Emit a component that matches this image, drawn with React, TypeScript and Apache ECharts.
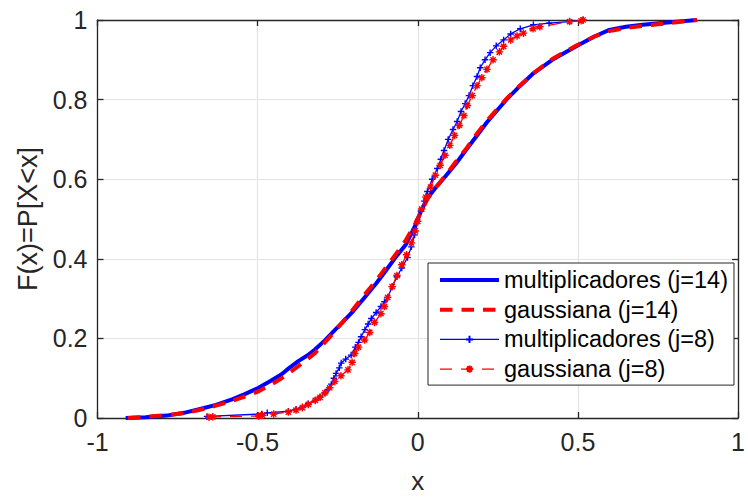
import React, { useEffect, useRef } from "react";
import * as echarts from "echarts";

const xTicks = [-1, -0.5, 0, 0.5, 1];
const yTicks = [0, 0.2, 0.4, 0.6, 0.8, 1];

const seriesNames = [
  "multiplicadores (j=14)",
  "gaussiana (j=14)",
  "multiplicadores (j=8)",
  "gaussiana (j=8)",
];

// multiplicadores j=14 (thick blue)
const mult14X = [-0.912, -0.85, -0.785, -0.73, -0.683, -0.63, -0.58, -0.54, -0.497, -0.46, -0.425, -0.404, -0.373, -0.345, -0.321, -0.29, -0.26, -0.239, -0.2, -0.166, -0.13, -0.1, -0.07, -0.037, -0.01, 0.01, 0.03, 0.055, 0.082, 0.12, 0.154, 0.185, 0.216, 0.25, 0.278, 0.32, 0.361, 0.42, 0.495, 0.55, 0.598, 0.65, 0.702, 0.78, 0.872];
const mult14Y = [0, 0.002, 0.006, 0.013, 0.022, 0.033, 0.047, 0.06, 0.076, 0.093, 0.11, 0.124, 0.143, 0.157, 0.172, 0.195, 0.22, 0.237, 0.27, 0.303, 0.338, 0.37, 0.403, 0.436, 0.48, 0.52, 0.552, 0.578, 0.603, 0.64, 0.677, 0.71, 0.743, 0.775, 0.801, 0.835, 0.866, 0.9, 0.934, 0.958, 0.975, 0.983, 0.988, 0.994, 1];

// gaussiana j=14 (thick red dashed)
const gaus14X = [-0.905, -0.85, -0.785, -0.73, -0.683, -0.63, -0.58, -0.54, -0.497, -0.46, -0.425, -0.39, -0.36, -0.321, -0.29, -0.26, -0.23, -0.2, -0.166, -0.13, -0.1, -0.07, -0.037, -0.01, 0.01, 0.03, 0.055, 0.082, 0.12, 0.154, 0.185, 0.216, 0.25, 0.278, 0.32, 0.361, 0.42, 0.495, 0.55, 0.598, 0.65, 0.702, 0.78, 0.872];
const gaus14Y = [0, 0.003, 0.007, 0.012, 0.02, 0.031, 0.043, 0.054, 0.067, 0.083, 0.1, 0.12, 0.138, 0.163, 0.19, 0.217, 0.245, 0.275, 0.31, 0.345, 0.378, 0.41, 0.447, 0.485, 0.518, 0.55, 0.578, 0.605, 0.645, 0.68, 0.715, 0.747, 0.778, 0.803, 0.836, 0.866, 0.902, 0.936, 0.958, 0.972, 0.98, 0.985, 0.992, 1];

// multiplicadores j=8 (thin blue, +)
const mult8X = [-0.658, -0.487, -0.47, -0.404, -0.38, -0.36, -0.342, -0.32, -0.305, -0.29, -0.28, -0.27, -0.262, -0.255, -0.245, -0.239, -0.225, -0.208, -0.195, -0.185, -0.177, -0.165, -0.155, -0.145, -0.13, -0.115, -0.104, -0.094, -0.08, -0.065, -0.05, -0.032, -0.02, -0.01, 0, 0.01, 0.02, 0.03, 0.045, 0.061, 0.072, 0.082, 0.095, 0.11, 0.123, 0.135, 0.148, 0.16, 0.172, 0.185, 0.195, 0.21, 0.226, 0.245, 0.268, 0.29, 0.32, 0.361, 0.41, 0.474, 0.516];
const mult8Y = [0.004, 0.01, 0.013, 0.017, 0.022, 0.028, 0.036, 0.045, 0.053, 0.063, 0.072, 0.085, 0.1, 0.112, 0.126, 0.138, 0.148, 0.158, 0.178, 0.19, 0.204, 0.222, 0.236, 0.25, 0.265, 0.28, 0.292, 0.303, 0.33, 0.355, 0.377, 0.403, 0.43, 0.46, 0.494, 0.52, 0.545, 0.569, 0.6, 0.627, 0.65, 0.672, 0.7, 0.725, 0.745, 0.77, 0.79, 0.81, 0.835, 0.858, 0.88, 0.9, 0.918, 0.935, 0.95, 0.965, 0.978, 0.988, 0.992, 0.996, 1];

// gaussiana j=8 (thin red dashed, *)
const gaus8X = [-0.652, -0.64, -0.497, -0.485, -0.45, -0.404, -0.38, -0.36, -0.342, -0.32, -0.305, -0.29, -0.275, -0.259, -0.24, -0.218, -0.205, -0.197, -0.185, -0.166, -0.15, -0.135, -0.115, -0.104, -0.094, -0.08, -0.065, -0.05, -0.035, -0.02, -0.008, 0, 0.012, 0.025, 0.04, 0.055, 0.07, 0.085, 0.1, 0.115, 0.13, 0.144, 0.155, 0.17, 0.185, 0.2, 0.216, 0.235, 0.255, 0.268, 0.29, 0.31, 0.33, 0.36, 0.381, 0.474, 0.51, 0.516];
const gaus8Y = [0.002, 0.003, 0.005, 0.007, 0.01, 0.015, 0.02, 0.026, 0.034, 0.044, 0.052, 0.063, 0.076, 0.092, 0.106, 0.121, 0.14, 0.162, 0.178, 0.196, 0.215, 0.24, 0.262, 0.28, 0.303, 0.33, 0.358, 0.385, 0.41, 0.44, 0.47, 0.494, 0.525, 0.555, 0.58, 0.61, 0.635, 0.66, 0.685, 0.71, 0.735, 0.76, 0.785, 0.81, 0.835, 0.855, 0.876, 0.9, 0.92, 0.934, 0.95, 0.96, 0.967, 0.978, 0.983, 0.996, 0.998, 1];

const zip = (xs: number[], ys: number[]) => xs.map((x, i) => [x, ys[i]]);

const PLUS = "path://M0,5L10,5M5,0L5,10";
const STAR = "path://M0,5L10,5M5,0L5,10M1.5,1.5L8.5,8.5M8.5,1.5L1.5,8.5";
const NOSYM = "path://M0,0L10,10";

const FONT = "'Liberation Sans', Arial, Helvetica, sans-serif";
const AX = "#262626";

export default function App() {
  const ref = useRef<HTMLDivElement>(null);
  useEffect(() => {
    if (!ref.current) return;
    const chart = echarts.init(ref.current, undefined, { renderer: "svg" });
    const commonX = {
      type: "value",
      min: -1,
      max: 1,
      interval: 0.5,
    };
    const commonY = {
      type: "value",
      min: 0,
      max: 1,
      interval: 0.2,
    };
    chart.setOption({
      animation: false,
      backgroundColor: "#ffffff",
      grid: { left: 97.5, right: 5, top: 20, bottom: 77, containLabel: false },
      xAxis: [
        {
          ...commonX,
          position: "bottom",
          name: "x",
          nameLocation: "middle",
          nameGap: 50,
          nameTextStyle: { fontSize: 26, color: AX, fontFamily: FONT },
          axisLine: { show: true, onZero: false, lineStyle: { color: AX, width: 1.3 } },
          axisTick: { show: true, inside: true, length: 6, lineStyle: { color: AX, width: 1.3 } },
          axisLabel: {
            fontSize: 25,
            color: AX,
            fontFamily: FONT,
            margin: 11,
            formatter: (v: number) => String(xTicks.find((t) => Math.abs(t - v) < 1e-9) ?? v),
          },
          splitLine: { show: true, lineStyle: { color: "#e3e3e3", width: 1.2 } },
        },
        {
          ...commonX,
          position: "top",
          axisLine: { show: true, onZero: false, lineStyle: { color: AX, width: 1.3 } },
          axisTick: { show: true, inside: true, length: 6, lineStyle: { color: AX, width: 1.3 } },
          axisLabel: { show: false },
          splitLine: { show: false },
        },
      ],
      yAxis: [
        {
          ...commonY,
          position: "left",
          name: "F(x)=P[X<x]",
          nameLocation: "middle",
          nameGap: 53,
          nameTextStyle: { fontSize: 27, color: AX, fontFamily: FONT },
          axisLine: { show: true, onZero: false, lineStyle: { color: AX, width: 1.3 } },
          axisTick: { show: true, inside: true, length: 6, lineStyle: { color: AX, width: 1.3 } },
          axisLabel: {
            fontSize: 25,
            color: AX,
            fontFamily: FONT,
            margin: 10,
            formatter: (v: number) => String(yTicks.find((t) => Math.abs(t - v) < 1e-9) ?? v),
          },
          splitLine: { show: true, lineStyle: { color: "#e3e3e3", width: 1.2 } },
        },
        {
          ...commonY,
          position: "right",
          axisLine: { show: true, onZero: false, lineStyle: { color: AX, width: 1.3 } },
          axisTick: { show: true, inside: true, length: 6, lineStyle: { color: AX, width: 1.3 } },
          axisLabel: { show: false },
          splitLine: { show: false },
        },
      ],
      legend: {
        orient: "vertical",
        left: 428,
        top: 263,
        data: seriesNames,
        selectedMode: false,
        backgroundColor: "#ffffff",
        borderColor: AX,
        borderWidth: 1,
        padding: [5, 6, 4, 10],
        itemWidth: 59,
        itemHeight: 9,
        itemGap: 5.7,
        textStyle: { fontSize: 23.5, color: "#000000", fontFamily: FONT, lineHeight: 24 },
        lineStyle: { width: "inherit" },
      },
      series: [
        {
          name: seriesNames[0],
          type: "line",
          data: zip(mult14X, mult14Y),
          symbol: NOSYM,
          showSymbol: false,
          lineStyle: { color: "#0000ff", width: 4 },
          itemStyle: { color: "#0000ff", borderWidth: 0 },
          z: 2,
        },
        {
          name: seriesNames[1],
          type: "line",
          data: zip(gaus14X, gaus14Y),
          symbol: NOSYM,
          showSymbol: false,
          lineStyle: { color: "#ff0000", width: 4, type: [12.5, 9] },
          itemStyle: { color: "#ff0000", borderWidth: 0 },
          z: 3,
        },
        {
          name: seriesNames[2],
          type: "line",
          data: zip(mult8X, mult8Y),
          symbol: PLUS,
          symbolSize: 6.5,
          showSymbol: true,
          lineStyle: { color: "#0000ff", width: 1.3 },
          itemStyle: { color: "#0000ff", borderColor: "#0000ff", borderWidth: 1.4 },
          z: 4,
        },
        {
          name: seriesNames[3],
          type: "line",
          data: zip(gaus8X, gaus8Y),
          symbol: STAR,
          symbolSize: 7.5,
          showSymbol: true,
          lineStyle: { color: "#ff0000", width: 1.3, type: [12, 9] },
          itemStyle: { color: "#ff0000", borderColor: "#ff0000", borderWidth: 1.4 },
          z: 5,
        },
      ],
    });
    return () => chart.dispose();
  }, []);
  return (
    <div
      ref={ref}
      style={{ position: "fixed", left: 0, top: 0, width: 748, height: 499, background: "#fff" }}
    />
  );
}
